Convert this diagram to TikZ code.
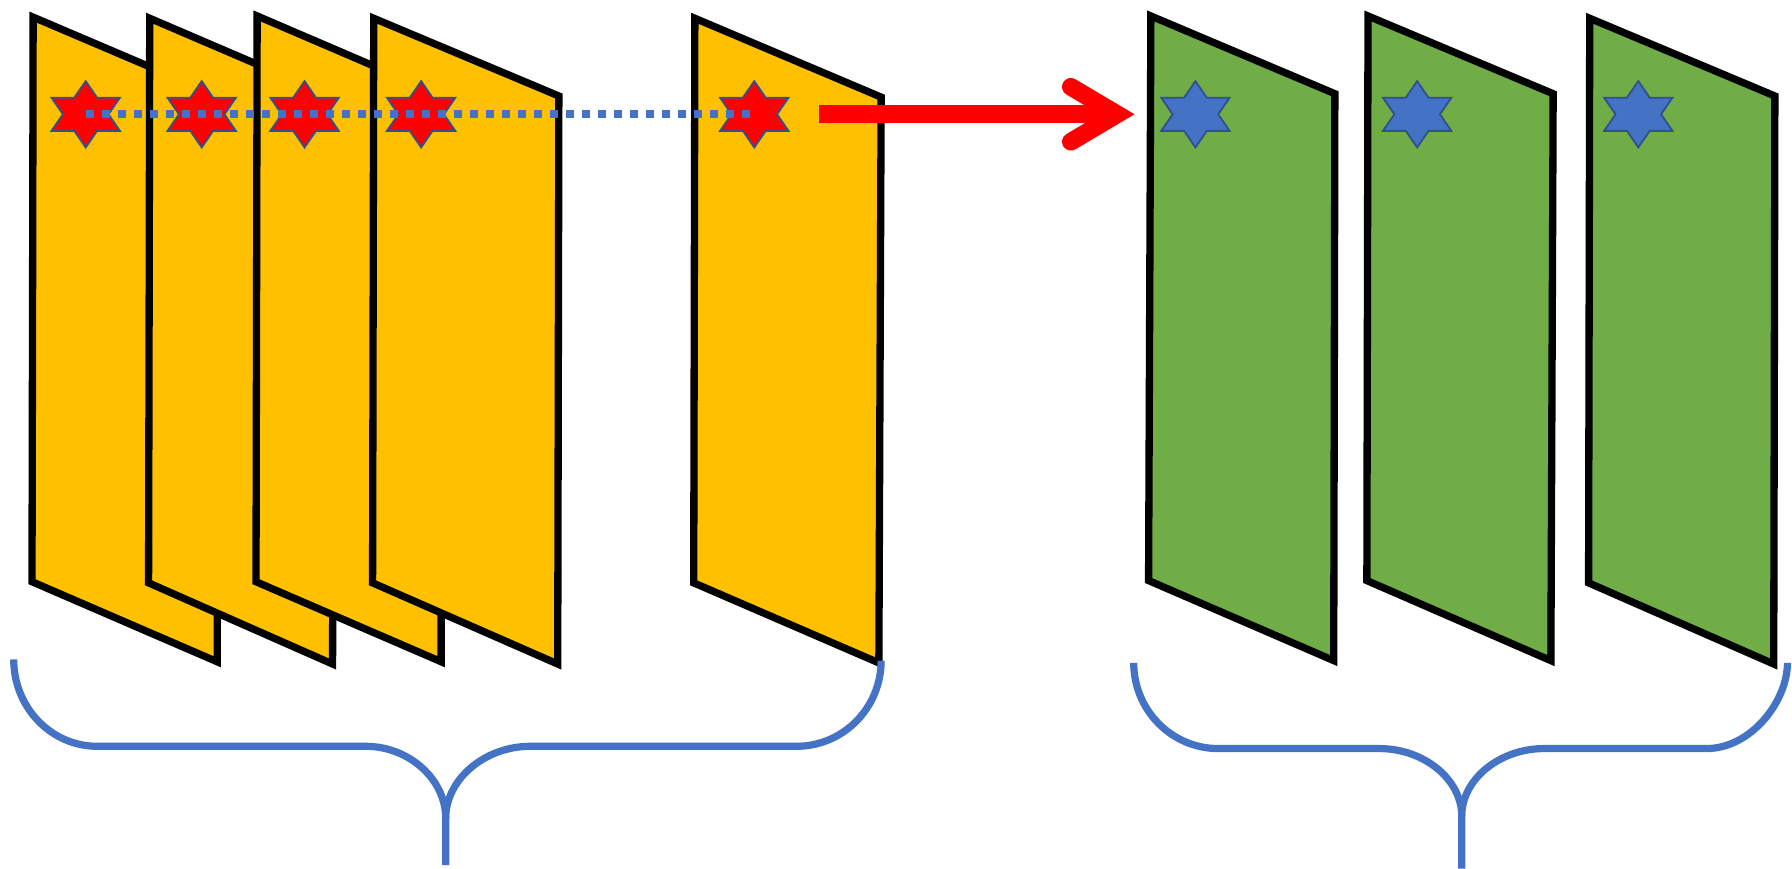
\documentclass[tikz,border=0pt]{standalone}
\usetikzlibrary{calc}
\definecolor{panelyellow}{HTML}{FFC000}
\definecolor{panelgreen}{HTML}{70AD47}
\definecolor{braceblue}{HTML}{4472C4}
\definecolor{starblue}{HTML}{4472C4}
\definecolor{starrim}{HTML}{2F528F}
\definecolor{arrowred}{HTML}{FF0000}
\begin{document}
\begin{tikzpicture}[x=1pt,y=-1pt,
  panel/.style={draw=black,line width=6.4pt,line join=miter},
  yellowpanel/.style={panel,fill=panelyellow},
  greenpanel/.style={panel,fill=panelgreen},
  redstar/.style={fill=arrowred,draw=starrim,line width=1.6pt},
  bluestar/.style={fill=starblue,draw=starrim,line width=1.6pt},
  bracket/.style={draw=braceblue,line width=6.3pt},
  dotline/.style={draw=braceblue,line width=7pt,dash pattern=on 7pt off 7pt},
  bigarrow/.style={draw=arrowred,line width=15.5pt},
  hexstar/.pic={
    \path[pic actions,xscale=1.19]
      (90:29) -- (120:16.74) -- (150:29) -- (180:16.74) -- (210:29) -- (240:16.74)
      -- (270:29) -- (300:16.74) -- (330:29) -- (0:16.74) -- (30:29) -- (60:16.74) -- cycle;
  }]
% canvas
\fill[white] (0,0) rectangle (1568,760);
\useasboundingbox (0,0) rectangle (1568,760);

% star centres
\coordinate (s1) at (75,100);
\coordinate (s2) at (176.5,100);
\coordinate (s3) at (266.5,100);
\coordinate (s4) at (368.5,100);
\coordinate (s5) at (660,100);
\coordinate (g1) at (1046,100);
\coordinate (g2) at (1240,100);
\coordinate (g3) at (1433.5,100);

% stacked yellow frames
\draw[yellowpanel] (29,15) -- (191,84) -- (190,579) -- (28,509) -- cycle;
\pic[redstar] at (s1) {hexstar};
\draw[yellowpanel] (131,16) -- (292,85) -- (291,581) -- (130,510) -- cycle;
\pic[redstar] at (s2) {hexstar};
\draw[yellowpanel] (225,14) -- (386,83) -- (386,579) -- (224,509) -- cycle;
\pic[redstar] at (s3) {hexstar};
\draw[yellowpanel] (327,16) -- (489,84) -- (488,581) -- (326,510) -- cycle;
\pic[redstar] at (s4) {hexstar};
\draw[yellowpanel] (608,16) -- (771,85) -- (769,580) -- (607,510) -- cycle;
\pic[redstar] at (s5) {hexstar};

% dotted link through the red stars
\draw[dotline] (s1) -- (s5);

% red arrow
\coordinate (arrowtail) at (717,100);
\coordinate (arrowtip) at (977.5,100);
\draw[bigarrow] (arrowtail) -- (arrowtip);
\draw[bigarrow,line cap=round,line join=miter]
  ($(arrowtip)+(-40.5,-24)$) -- (arrowtip) -- ($(arrowtip)+(-40.5,24)$);

% green frames
\draw[greenpanel] (1007,14) -- (1168,82) -- (1167,578) -- (1005,508) -- cycle;
\pic[bluestar] at (g1) {hexstar};
\draw[greenpanel] (1197,14) -- (1359,82) -- (1357,578) -- (1196,508) -- cycle;
\pic[bluestar] at (g2) {hexstar};
\draw[greenpanel] (1391,16) -- (1553,84) -- (1552,581) -- (1390,510) -- cycle;
\pic[bluestar] at (g3) {hexstar};

% left brace
\draw[bracket] (12,577) .. controls (12,619) and (44.7,653) .. (85,653) -- (320,653)
  .. controls (358,653) and (390,682) .. (390,716) -- (390,757);
\draw[bracket] (390,716) .. controls (390,682) and (424,653) .. (464,653) -- (697,653)
  .. controls (737.8,653) and (771,619.4) .. (771,578);

% right brace
\draw[bracket] (992,580) .. controls (992,621.4) and (1025.2,655) .. (1066,655) -- (1207,655)
  .. controls (1246,655) and (1279,682) .. (1279,714) -- (1279,760);
\draw[bracket] (1279,714) .. controls (1279,682) and (1312,655) .. (1351,655) -- (1493,655)
  .. controls (1532.2,655) and (1564,613.6) .. (1564,580);
\end{tikzpicture}
\end{document}
